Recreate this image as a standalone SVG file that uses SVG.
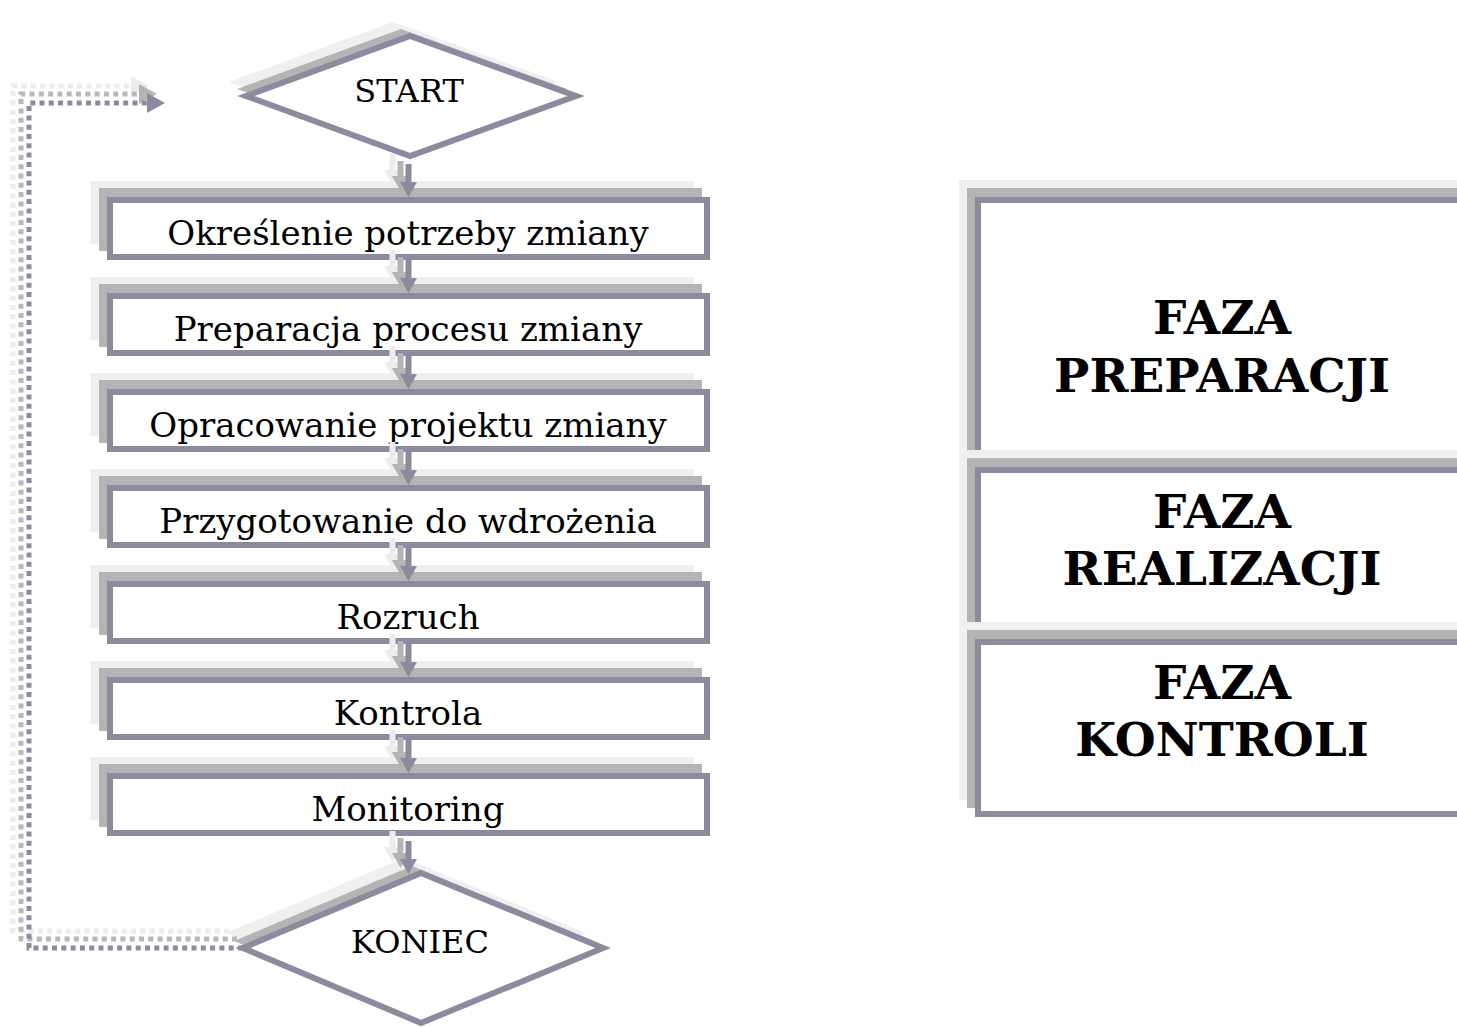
<svg xmlns="http://www.w3.org/2000/svg" width="1457" height="1027" viewBox="0 0 1457 1027">
<defs>
<style>
.main{fill:#fff;stroke:#8b8a9f;stroke-width:6}
.sh1{fill:#b4b4b4}
.sh2{fill:#efefef}
.t{font-family:"DejaVu Serif","Liberation Serif",serif;font-size:34px;fill:#000;text-anchor:middle}
.ts{font-family:"DejaVu Serif","Liberation Serif",serif;font-size:32px;fill:#000;text-anchor:middle}
.tb{font-family:"DejaVu Serif","Liberation Serif",serif;font-size:47px;font-weight:bold;fill:#000;text-anchor:middle}
.ln{stroke:#8b8a9f;stroke-width:6;fill:none}
.ln1{stroke:#b4b4b4;stroke-width:6;fill:none}
.ln2{stroke:#ececec;stroke-width:6;fill:none}
.hd{fill:#8b8a9f}
.hd1{fill:#b4b4b4}
.hd2{fill:#ececec}
.dot{stroke:#8b8a9f;stroke-width:5;fill:none;stroke-dasharray:5 4.3}
.dot1{stroke:#b8b8b8;stroke-width:5;fill:none;stroke-dasharray:5 4.3}
.dot2{stroke:#ececec;stroke-width:5;fill:none;stroke-dasharray:5 4.3}
</style>
<g id="arr">
  <path class="ln2" d="M-16 -43 V-20"/><polygon class="hd2" points="-24.5,-27 -7.5,-27 -16,-12"/>
  <path class="ln1" d="M-8 -36 V-14"/><polygon class="hd1" points="-16.5,-21 0.5,-21 -8,-6"/>
  <path class="ln" d="M0 -33 V-13"/><polygon class="hd" points="-8.5,-15 8.5,-15 0,0"/>
</g>
</defs>
<rect width="1457" height="1027" fill="#fff"/>

<g id="start">
  <polygon class="sh2" points="393,22 559,82 393,142 229,82"/>
  <polygon class="sh1" points="401,29 567,89 401,149 237,89"/>
  <polygon class="main" points="410,36 576,96 410,156 246,96"/>
  <text class="ts" x="409" y="102">START</text>
</g>

<g id="n1">
  <rect class="sh2" x="91" y="181" width="603" height="63"/>
  <rect class="sh1" x="99" y="188" width="603" height="63"/>
  <rect class="main" x="110" y="200" width="597" height="57"/>
  <text class="t" x="408" y="245">Określenie potrzeby zmiany</text>
</g>
<g id="n2">
  <rect class="sh2" x="91" y="277" width="603" height="63"/>
  <rect class="sh1" x="99" y="284" width="603" height="63"/>
  <rect class="main" x="110" y="296" width="597" height="57"/>
  <text class="t" x="408" y="341">Preparacja procesu zmiany</text>
</g>
<g id="n3">
  <rect class="sh2" x="91" y="373" width="603" height="63"/>
  <rect class="sh1" x="99" y="380" width="603" height="63"/>
  <rect class="main" x="110" y="392" width="597" height="57"/>
  <text class="t" x="408" y="437">Opracowanie projektu zmiany</text>
</g>
<g id="n4">
  <rect class="sh2" x="91" y="469" width="603" height="63"/>
  <rect class="sh1" x="99" y="476" width="603" height="63"/>
  <rect class="main" x="110" y="488" width="597" height="57"/>
  <text class="t" x="408" y="533">Przygotowanie do wdrożenia</text>
</g>
<g id="n5">
  <rect class="sh2" x="91" y="565" width="603" height="63"/>
  <rect class="sh1" x="99" y="572" width="603" height="63"/>
  <rect class="main" x="110" y="584" width="597" height="57"/>
  <text class="t" x="408" y="629">Rozruch</text>
</g>
<g id="n6">
  <rect class="sh2" x="91" y="661" width="603" height="63"/>
  <rect class="sh1" x="99" y="668" width="603" height="63"/>
  <rect class="main" x="110" y="680" width="597" height="57"/>
  <text class="t" x="408" y="725">Kontrola</text>
</g>
<g id="n7">
  <rect class="sh2" x="91" y="757" width="603" height="63"/>
  <rect class="sh1" x="99" y="764" width="603" height="63"/>
  <rect class="main" x="110" y="776" width="597" height="57"/>
  <text class="t" x="408" y="821">Monitoring</text>
</g>

<g id="koniec">
  <polygon class="sh2" points="404,858 586,933 404,1008 226,933"/>
  <polygon class="sh1" points="412,866 594,941 412,1016 234,941"/>
  <polygon class="main" points="421,873 603,948 421,1023 243,948"/>
  <text class="ts" x="420" y="953">KONIEC</text>
</g>

<g id="faza1">
  <rect class="sh2" x="959" y="180" width="600" height="276"/>
  <rect class="sh1" x="967" y="188" width="600" height="276"/>
  <rect class="main" x="978" y="200" width="600" height="270"/>
  <text class="tb" x="1222" y="334">FAZA</text>
  <text class="tb" x="1222" y="392">PREPARACJI</text>
</g>
<g id="faza2">
  <rect class="sh2" x="959" y="450" width="600" height="178"/>
  <rect class="sh1" x="967" y="458" width="600" height="178"/>
  <rect class="main" x="978" y="470" width="600" height="172"/>
  <text class="tb" x="1222" y="528">FAZA</text>
  <text class="tb" x="1222" y="585">REALIZACJI</text>
</g>
<g id="faza3">
  <rect class="sh2" x="959" y="622" width="600" height="178"/>
  <rect class="sh1" x="967" y="630" width="600" height="178"/>
  <rect class="main" x="978" y="642" width="600" height="172"/>
  <text class="tb" x="1222" y="699">FAZA</text>
  <text class="tb" x="1222" y="756">KONTROLI</text>
</g>

<g id="connectors">
  <g id="loop">
    <path class="dot2" d="M229 931 H13 V86 H133"/>
    <polygon class="hd2" points="131,76 149,86 131,96"/>
    <path class="dot1" d="M237 939 H21 V94 H141"/>
    <polygon class="hd1" points="139,84 157,94 139,104"/>
    <path class="dot" d="M243 948 H29 V103 H149"/>
    <polygon class="hd" points="147,93 165,103 147,113"/>
  </g>
  <use href="#arr" x="408.5" y="197"/>
  <use href="#arr" x="408.5" y="293"/>
  <use href="#arr" x="408.5" y="389"/>
  <use href="#arr" x="408.5" y="485"/>
  <use href="#arr" x="408.5" y="581"/>
  <use href="#arr" x="408.5" y="677"/>
  <use href="#arr" x="408.5" y="773"/>
  <use href="#arr" x="408.5" y="874"/>
</g>
</svg>
